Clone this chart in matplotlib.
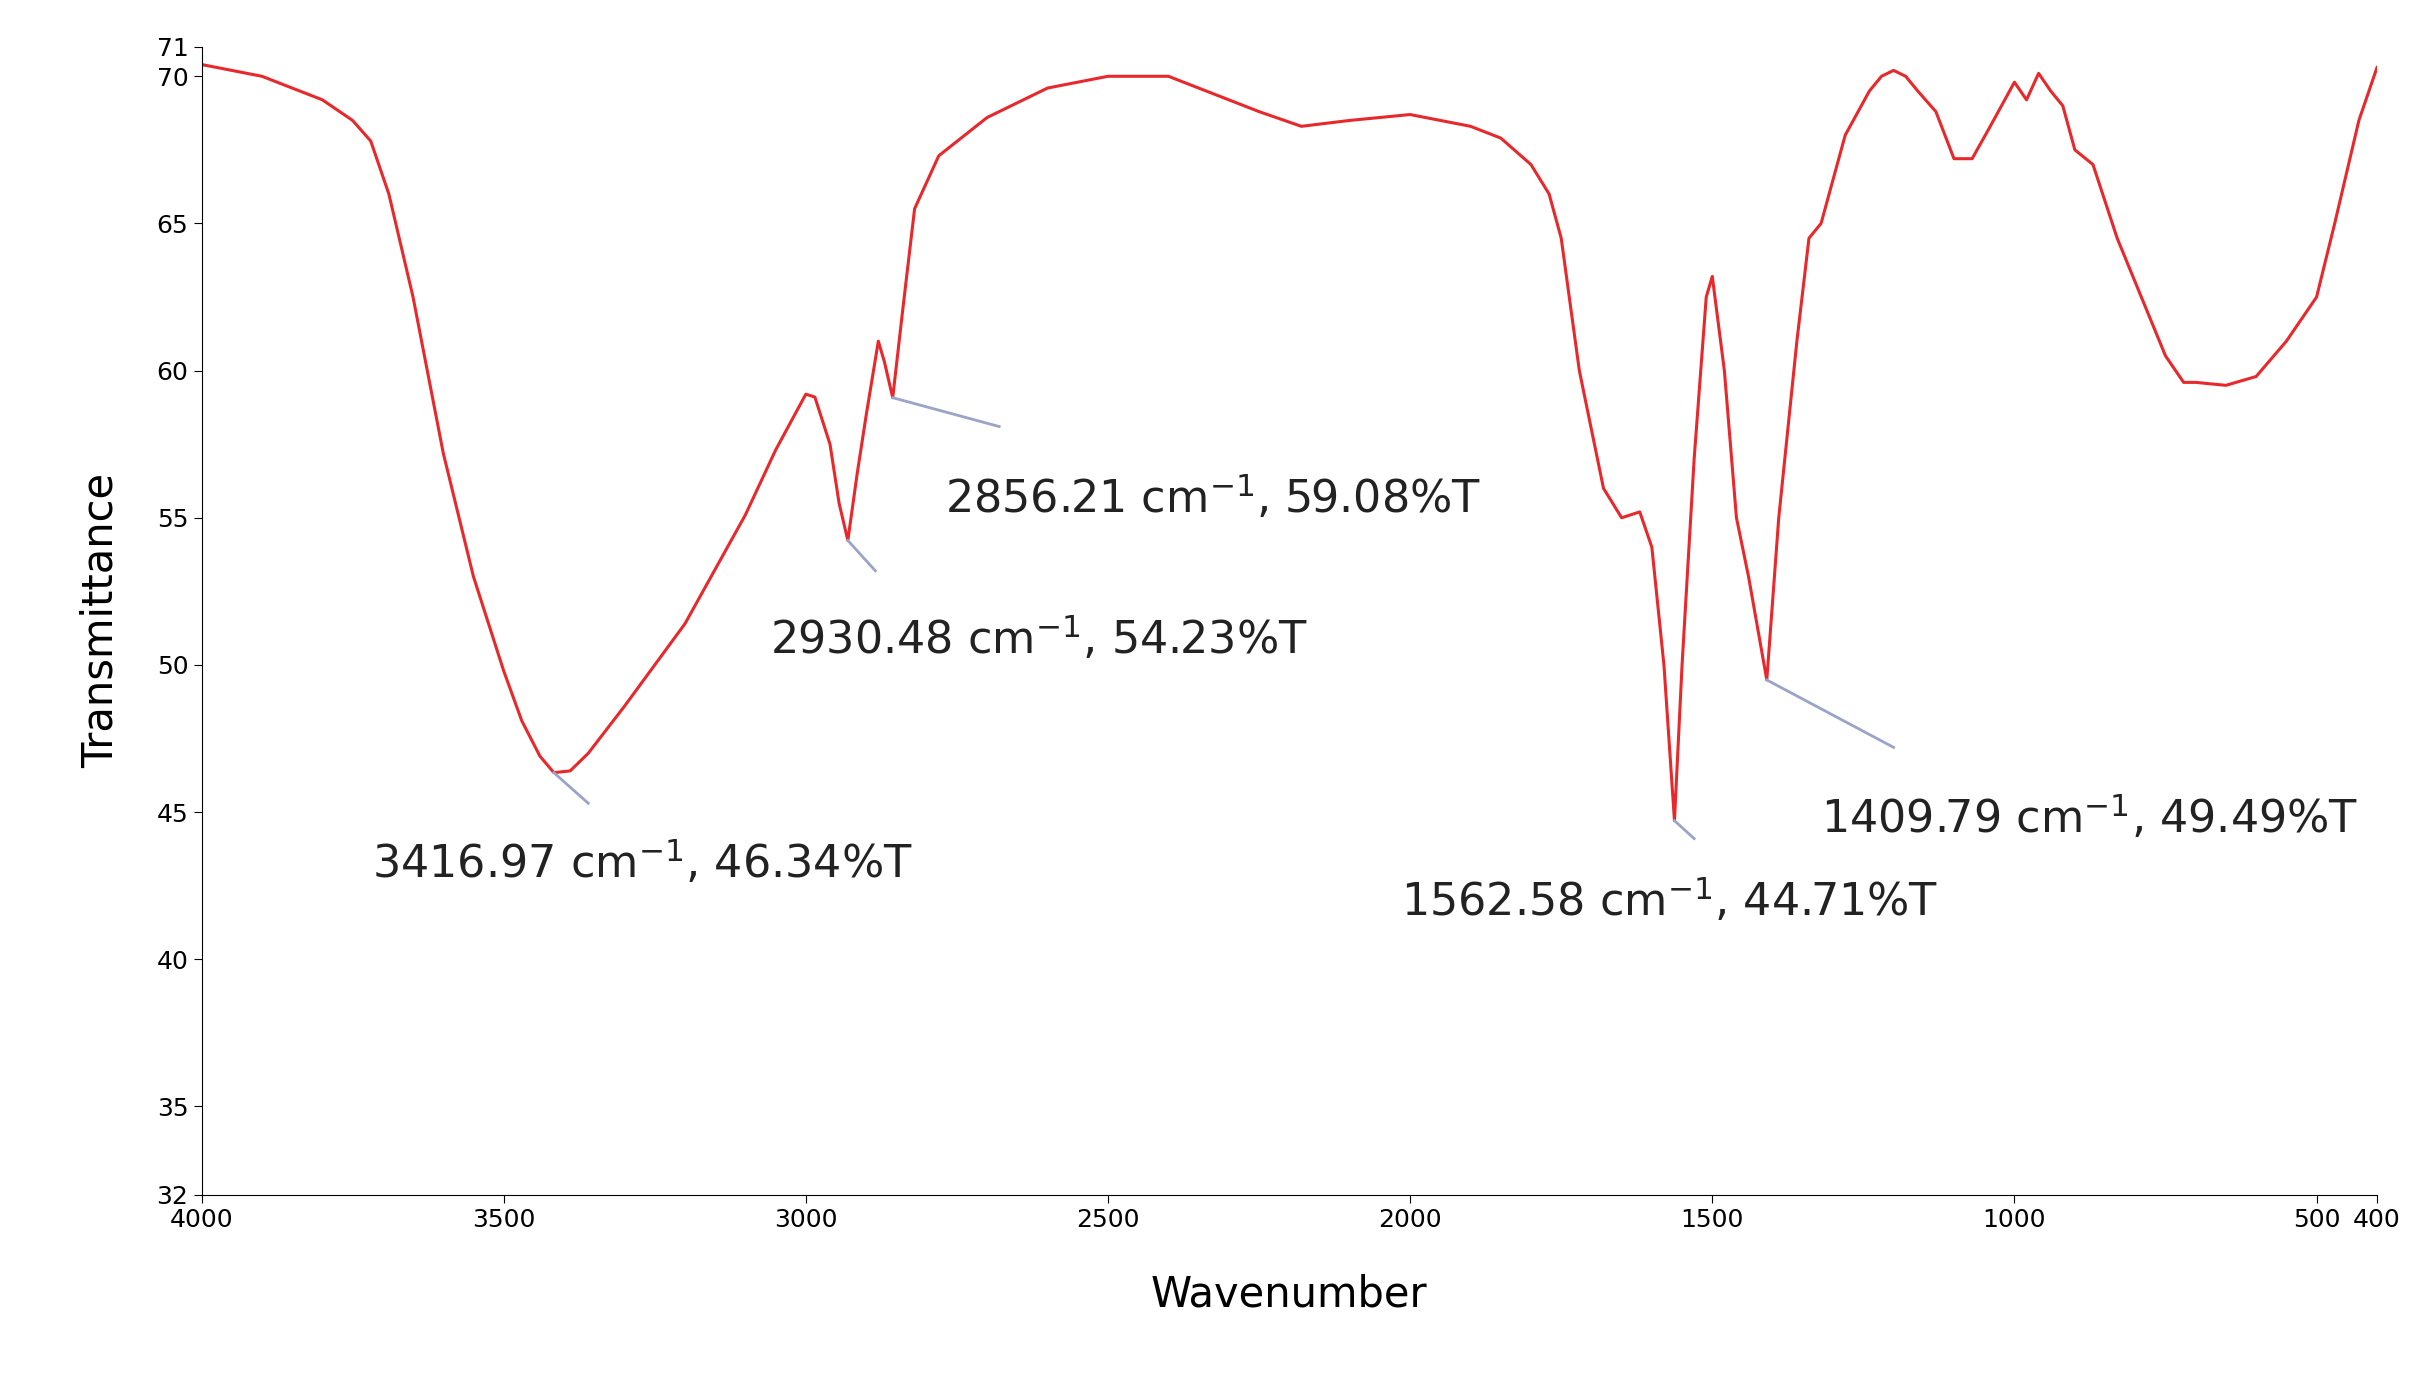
import matplotlib
matplotlib.use("Agg")
import matplotlib.pyplot as plt
import numpy as np

wavenumber = [4000,3900,3800,3750,3720,3690,3650,3600,3550,3500,3470,3440,3416.97,3390,3360,3330,3300,3200,3100,3050,3000,2985,2960,2945,2930.48,2915,2900,2880,2870,2856.21,2840,2820,2780,2700,2600,2500,2400,2350,2250,2180,2100,2000,1900,1850,1800,1770,1750,1720,1680,1650,1620,1600,1580,1562.58,1550,1530,1510,1500,1480,1460,1440,1409.79,1390,1360,1340,1320,1280,1240,1220,1200,1180,1160,1130,1100,1070,1040,1000,980,960,940,920,900,870,830,790,750,720,700,650,600,550,500,470,430,400]
transmittance = [70.4,70.0,69.2,68.5,67.8,66.0,62.5,57.2,53.0,49.8,48.1,46.9,46.34,46.4,47.0,47.8,48.6,51.4,55.1,57.3,59.2,59.1,57.5,55.5,54.23,56.5,58.5,61.0,60.3,59.08,62.0,65.5,67.3,68.6,69.6,70.0,70.0,69.6,68.8,68.3,68.5,68.7,68.3,67.9,67.0,66.0,64.5,60.0,56.0,55.0,55.2,54.0,50.0,44.71,50.0,57.0,62.5,63.2,60.0,55.0,53.0,49.49,55.0,61.0,64.5,65.0,68.0,69.5,70.0,70.2,70.0,69.5,68.8,67.2,67.2,68.3,69.8,69.2,70.1,69.5,69.0,67.5,67.0,64.5,62.5,60.5,59.6,59.6,59.5,59.8,61.0,62.5,65.0,68.5,70.3]

ann_x = [3416.97, 2930.48, 2856.21, 1562.58, 1409.79]
ann_y = [46.34, 54.23, 59.08, 44.71, 49.49]
ann_end_x = [3360, 2885, 2680, 1530, 1200]
ann_end_y = [45.3, 53.2, 58.1, 44.1, 47.2]
ann_text_x = [3718, 3060, 2770, 2015, 1320]
ann_text_y = [43.3, 50.9, 55.7, 42.0, 44.8]

xticks = [4000,3500,3000,2500,2000,1500,1000,500,400]
yticks = [32,35,40,45,50,55,60,65,70,71]

fig = plt.figure(figsize=(24.28,13.78), dpi=100)
ax = fig.add_axes([0.083,0.133,0.896,0.833])
ax.plot(wavenumber, transmittance, color="#e8282b", lw=2.2)
for x0,y0,x1,y1,tx,ty in zip(ann_x,ann_y,ann_end_x,ann_end_y,ann_text_x,ann_text_y):
    ax.plot([x0,x1],[y0,y1], color="#9aa3c8", lw=2)
    ax.text(tx, ty, f"{x0:.2f} cm$^{{-1}}$, {y0:.2f}%T", fontsize=32, ha="left", va="center", color="#222222")
ax.set_xlim(4000,400)
ax.set_ylim(32,71)
ax.set_xticks(xticks)
ax.set_yticks(yticks)
ax.tick_params(labelsize=18, length=6)
for s in ["top","right"]:
    ax.spines[s].set_visible(False)
ax.set_xlabel("Wavenumber", fontsize=30, labelpad=30)
ax.set_ylabel("Transmittance", fontsize=30, labelpad=25)
fig.savefig("out.png", dpi=100)
